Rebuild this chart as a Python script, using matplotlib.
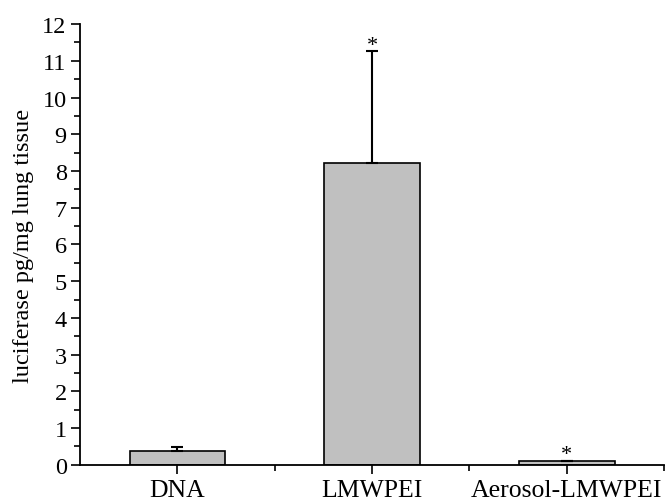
import matplotlib.pyplot as plt
import numpy as np
from matplotlib.ticker import MultipleLocator

plt.rcParams['font.family'] = ['Liberation Serif', 'DejaVu Serif']

groups = ["DNA", "LMWPEI", "Aerosol-LMWPEI"]
means = [0.38, 8.22, 0.11]
upper_err = [0.11, 3.05, 0.0]
stars = ["", "*", "*"]

fig = plt.figure(figsize=(6.71, 5.02), dpi=100)
ax = fig.add_axes([0.119, 0.072, 0.871, 0.878])

x = np.arange(1, len(groups) + 1)
ax.bar(x, means, width=0.49, color="#c0c0c0", edgecolor="black", linewidth=1.2, zorder=2)
ax.errorbar(x, means, yerr=[np.zeros(len(means)), upper_err], fmt="none",
            ecolor="black", elinewidth=1.5, capsize=4.5, capthick=1.5, zorder=3)

for xi, m, e, s in zip(x, means, upper_err, stars):
    if s:
        ax.text(xi, m + e - 0.1, s, ha="center", va="bottom", fontsize=16)

ax.set_xlim(0.5, 3.5)
ax.set_ylim(0, 12)
ax.set_xticks(x)
ax.set_xticklabels(groups, fontsize=18.5)
ax.set_xticks([1.5, 2.5, 3.5], minor=True)
ax.yaxis.set_major_locator(MultipleLocator(1))
ax.yaxis.set_minor_locator(MultipleLocator(0.5))
ax.tick_params(axis="both", which="major", direction="out", length=6.5, width=1.2)
ax.tick_params(axis="y", which="major", labelsize=17.5, pad=3)
ax.tick_params(axis="x", which="major", pad=3.5)
ax.tick_params(axis="both", which="minor", direction="out", length=4, width=1.2)
ax.set_ylabel("luciferase pg/mg lung tissue", fontsize=17.5, labelpad=6)

for side in ["top", "right"]:
    ax.spines[side].set_visible(False)
for side in ["left", "bottom"]:
    ax.spines[side].set_linewidth(1.3)

fig.savefig("out.png", dpi=100)
